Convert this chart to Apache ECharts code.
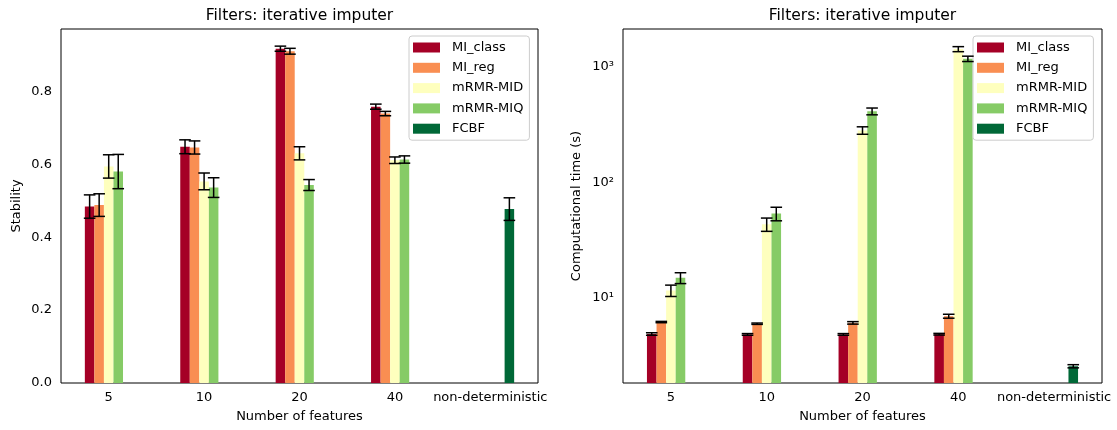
<!DOCTYPE html>
<html>
<head>
<meta charset="utf-8">
<script src="https://cdn.jsdelivr.net/npm/echarts@6/dist/echarts.min.js"></script>
<style>
  html, body { margin: 0; padding: 0; background: #fff; }
  #chart { width: 1117px; height: 430px; }
</style>
</head>
<body>
<div id="chart"></div>
<script>
// ---- data ----
const categories = ['5', '10', '20', '40', 'non-deterministic'];
const methods = ['MI_class', 'MI_reg', 'mRMR-MID', 'mRMR-MIQ', 'FCBF'];

// Stability (mean and std) per filter, one entry per category
const stabMIclass    = [0.484, 0.648, 0.917, 0.758, null];
const stabMIclassErr = [0.032, 0.019, 0.007, 0.007, null];
const stabMIreg      = [0.488, 0.646, 0.910, 0.739, null];
const stabMIregErr   = [0.031, 0.018, 0.008, 0.006, null];
const stabMID        = [0.594, 0.553, 0.630, 0.611, null];
const stabMIDErr     = [0.032, 0.023, 0.018, 0.009, null];
const stabMIQ        = [0.580, 0.536, 0.543, 0.613, null];
const stabMIQErr     = [0.047, 0.027, 0.015, 0.010, null];
const stabFCBF       = [null, null, null, null, 0.477];
const stabFCBFErr    = [null, null, null, null, 0.031];

// Computational time in seconds (mean and std)
const timeMIclass    = [4.82, 4.78, 4.78, 4.80, null];
const timeMIclassErr = [0.12, 0.08, 0.08, 0.08, null];
const timeMIreg      = [6.12, 5.92, 6.02, 6.88, null];
const timeMIregErr   = [0.08, 0.08, 0.15, 0.27, null];
const timeMID        = [11.5, 43.2, 282, 1432, null];
const timeMIDErr     = [1.3, 5.7, 21, 72, null];
const timeMIQ        = [14.8, 53.5, 413, 1180, null];
const timeMIQErr     = [1.6, 7.2, 28, 63, null];
const timeFCBF       = [null, null, null, null, 2.53];
const timeFCBFErr    = [null, null, null, null, 0.08];

// Axis ticks
const stabTicks = [0, 0.2, 0.4, 0.6, 0.8];
const timeTicks = [10, 100, 1000];
const timeMinorTicks = [2, 3, 4, 5, 6, 7, 8, 9, 20, 30, 40, 50, 60, 70, 80, 90,
                        200, 300, 400, 500, 600, 700, 800, 900, 2000];

// ---- styling ----
const colors = ['#a50026', '#f98e52', '#feffbe', '#86cb66', '#006837'];
const FONT = 'DejaVu Sans';
const BAR_FRAC = 0.1;   // bar width as a fraction of the category band
const CAP = 5.8;        // half-width of error-bar caps (px)

const stabMeans = [stabMIclass, stabMIreg, stabMID, stabMIQ, stabFCBF];
const stabErrs  = [stabMIclassErr, stabMIregErr, stabMIDErr, stabMIQErr, stabFCBFErr];
const timeMeans = [timeMIclass, timeMIreg, timeMID, timeMIQ, timeFCBF];
const timeErrs  = [timeMIclassErr, timeMIregErr, timeMIDErr, timeMIQErr, timeFCBFErr];

function errorData(means, errs) {
  const out = [];
  means.forEach((arr, m) => arr.forEach((v, c) => {
    if (v != null) out.push([c, m, v, errs[m][c]]);
  }));
  return out;
}

function renderErr(params, api) {
  const c = api.value(0), m = api.value(1), mean = api.value(2), e = api.value(3);
  const band = api.size([1, 0])[0];
  const x = api.coord([c, mean])[0] + (m - 2) * band * BAR_FRAC;
  const yTop = api.coord([c, mean + e])[1];
  const yBot = api.coord([c, mean - e])[1];
  const style = { stroke: '#000', lineWidth: 1.5 };
  return {
    type: 'group',
    children: [
      { type: 'line', shape: { x1: x, y1: yTop, x2: x, y2: yBot }, style },
      { type: 'line', shape: { x1: x - CAP, y1: yTop, x2: x + CAP, y2: yTop }, style },
      { type: 'line', shape: { x1: x - CAP, y1: yBot, x2: x + CAP, y2: yBot }, style }
    ]
  };
}

const supDigits = { '1': '\u00b9', '2': '\u00b2', '3': '\u00b3' };
function powLabel(v) {
  const e = Math.round(Math.log10(v));
  return '10' + (supDigits[String(e)] || '');
}

const tickText = { fontSize: 13, color: '#000', fontFamily: FONT };

function xAxisFor(gridIndex) {
  return {
    gridIndex, type: 'category', data: categories, boundaryGap: true,
    axisLine: { show: false },
    axisTick: { alignWithLabel: true, length: 4.5, lineStyle: { color: '#000', width: 1 } },
    axisLabel: Object.assign({ interval: 0, margin: 8 }, tickText),
    splitLine: { show: false },
    name: 'Number of features', nameLocation: 'middle', nameGap: 27,
    nameTextStyle: tickText
  };
}

function legendFor(left) {
  return {
    data: methods, left, top: 36, orient: 'vertical', icon: 'rect',
    itemWidth: 27, itemHeight: 10, itemGap: 7.3,
    padding: [5, 6, 5, 4],
    backgroundColor: 'rgba(255,255,255,0.8)',
    borderColor: '#cccccc', borderWidth: 1, borderRadius: 3,
    textStyle: { fontSize: 13, color: '#000', fontFamily: FONT, padding: [0, 0, 0, 7] }
  };
}

const series = [];
methods.forEach((name, m) => {
  series.push({
    name, type: 'bar', xAxisIndex: 0, yAxisIndex: 0,
    data: stabMeans[m], barWidth: '10%', barGap: '0%',
    itemStyle: { color: colors[m] }
  });
});
methods.forEach((name, m) => {
  series.push({
    name, type: 'bar', xAxisIndex: 1, yAxisIndex: 1,
    data: timeMeans[m], barWidth: '10%', barGap: '0%',
    itemStyle: { color: colors[m] }
  });
});
series.push({
  type: 'custom', xAxisIndex: 0, yAxisIndex: 0, z: 10,
  renderItem: renderErr, encode: { x: 0, y: 2 },
  data: errorData(stabMeans, stabErrs)
});
series.push({
  type: 'custom', xAxisIndex: 1, yAxisIndex: 1, z: 10,
  renderItem: renderErr, encode: { x: 0, y: 2 },
  data: errorData(timeMeans, timeErrs)
});

const option = {
  animation: false,
  textStyle: { fontFamily: FONT },
  color: colors,
  title: [
    { text: 'Filters: iterative imputer', left: 299.5, top: 8, textAlign: 'center', padding: 0,
      textStyle: { fontSize: 15.5, fontWeight: 'normal', color: '#000', fontFamily: FONT } },
    { text: 'Filters: iterative imputer', left: 862.5, top: 8, textAlign: 'center', padding: 0,
      textStyle: { fontSize: 15.5, fontWeight: 'normal', color: '#000', fontFamily: FONT } }
  ],
  legend: [legendFor(409), legendFor(973)],
  grid: [
    { left: 61, top: 29, width: 477, height: 354, show: true, borderColor: '#000', borderWidth: 1,
      outerBoundsMode: 'none' },
    { left: 623, top: 29, width: 479, height: 354, show: true, borderColor: '#000', borderWidth: 1,
      outerBoundsMode: 'none' }
  ],
  xAxis: [xAxisFor(0), xAxisFor(1)],
  yAxis: [
    {
      gridIndex: 0, type: 'value', min: 0, max: 0.971, interval: 0.2,
      axisLine: { show: false }, splitLine: { show: false },
      axisTick: { customValues: stabTicks, length: 4.5, lineStyle: { color: '#000', width: 1 } },
      axisLabel: Object.assign({ customValues: stabTicks, margin: 9,
        formatter: v => v.toFixed(1) }, tickText),
      name: 'Stability', nameLocation: 'middle', nameGap: 38, nameTextStyle: tickText
    },
    {
      gridIndex: 1, type: 'log', logBase: 10, min: 1.81, max: 2140,
      axisLine: { show: false }, splitLine: { show: false },
      axisTick: { customValues: timeTicks, length: 4.5, lineStyle: { color: '#000', width: 1 } },
      axisLabel: Object.assign({ customValues: timeTicks, margin: 9, formatter: powLabel }, tickText),
      name: 'Computational time (s)', nameLocation: 'middle', nameGap: 40, nameTextStyle: tickText
    },
    {
      // minor ticks of the log axis
      gridIndex: 1, type: 'log', logBase: 10, min: 1.81, max: 2140, position: 'left',
      axisLine: { show: false }, splitLine: { show: false }, axisLabel: { show: false },
      axisTick: { customValues: timeMinorTicks, length: 2.5, lineStyle: { color: '#000', width: 0.8 } }
    }
  ],
  series
};

const chart = echarts.init(document.getElementById('chart'), null, { renderer: 'canvas' });
chart.setOption(option);
</script>
</body>
</html>
